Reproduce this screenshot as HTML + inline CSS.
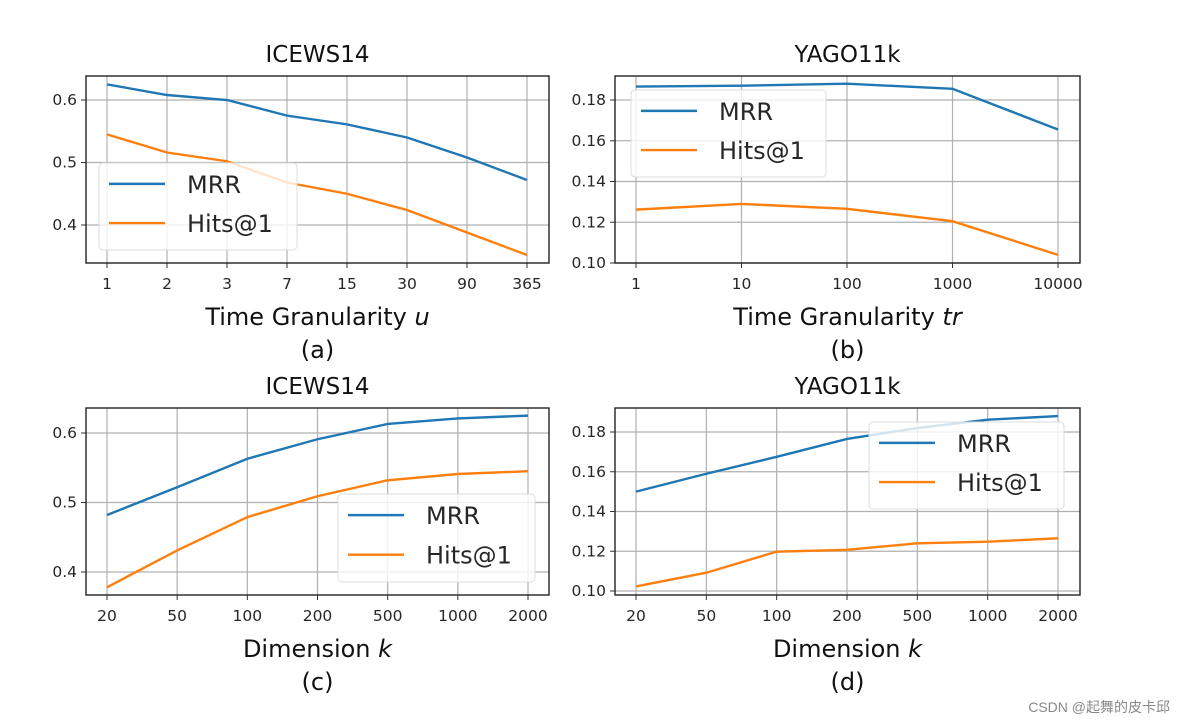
<!DOCTYPE html>
<html><head><meta charset="utf-8"><style>
body{margin:0;background:#fff;}
svg{display:block;font-family:"DejaVu Sans","Liberation Sans","Noto Sans CJK SC",sans-serif;}
</style></head><body>
<svg id="c" width="1184" height="722"></svg>
<script>
const xA=["1","2","3","7","15","30","90","365"];
const mrrA=[0.625,0.608,0.600,0.575,0.561,0.540,0.508,0.472];
const hitA=[0.545,0.516,0.502,0.468,0.450,0.424,0.388,0.352];
const xB=["1","10","100","1000","10000"];
const mrrB=[0.1866,0.1870,0.1880,0.1855,0.1655];
const hitB=[0.1262,0.1290,0.1266,0.1205,0.1040];
const xC=["20","50","100","200","500","1000","2000"];
const mrrC=[0.482,0.522,0.563,0.591,0.613,0.621,0.625];
const hitC=[0.378,0.431,0.479,0.509,0.532,0.541,0.545];
const mrrD=[0.150,0.159,0.1675,0.1765,0.182,0.1862,0.188];
const hitD=[0.1023,0.1092,0.1198,0.1207,0.1240,0.1248,0.1265];
const yTicksIce=[0.4,0.5,0.6];
const yTicksYago=[0.10,0.12,0.14,0.16,0.18];

const NS="http://www.w3.org/2000/svg";
const svg=document.getElementById('c');
function el(t,a,p){const e=document.createElementNS(NS,t);for(const k in a)e.setAttribute(k,a[k]);(p||svg).appendChild(e);return e;}
function txt(s,a,p){const e=el('text',a,p);e.textContent=s;return e;}

function panel(cfg){
  const g=el('g',{});
  
  
  const {L,R,T,B,x0,x1,yv0,yp0,yv1,yp1}=cfg;
  const n=cfg.cats.length;
  const xs=i=>x0+(x1-x0)*i/(n-1);
  const ys=v=>yp0+(v-yv0)*(yp1-yp0)/(yv1-yv0);
  cfg.cats.forEach((c,i)=>{
    const l=el('line',{x1:xs(i),x2:xs(i),y1:T,y2:B,stroke:'#b0b0b0','stroke-width':1.2},g);
    
    
    el('line',{x1:xs(i),x2:xs(i),y1:B,y2:B+5,stroke:'#333','stroke-width':1},g);
    const t=txt(c,{x:xs(i),y:B+26,'text-anchor':'middle','font-size':15.5,fill:'#262626'},g);
    
    
  });
  cfg.yt.forEach(v=>{
    const y=ys(v);
    el('line',{x1:L,x2:R,y1:y,y2:y,stroke:'#b0b0b0','stroke-width':1.2},g);
    el('line',{x1:L-5,x2:L,y1:y,y2:y,stroke:'#333','stroke-width':1},g);
    const t=txt(cfg.fmt(v),{x:L-9,y:y+5,'text-anchor':'end','font-size':15.5,fill:'#262626'},g);
    
    
  });
  [[cfg.mrr,'#1f77b4','mrr-line'],[cfg.hit,'#ff7f0e','hits1-line']].forEach(([d,col,nm])=>{
    const p=el('polyline',{points:d.map((v,i)=>xs(i)+','+ys(v)).join(' '),fill:'none',stroke:col,'stroke-width':2.4},g);
    
    
  });
  el('rect',{x:L,y:T,width:R-L,height:B-T,fill:'none',stroke:'#222','stroke-width':1.4},g);
  const lg=el('g',{},g);
  
  
  const [lx,ly,lw,lh]=cfg.leg;
  el('rect',{x:lx,y:ly,width:lw,height:lh,rx:4,fill:'rgba(255,255,255,0.8)',stroke:'#dcdcdc'},lg);
  [['MRR','#1f77b4',ly+lh*0.24],['Hits@1','#ff7f0e',ly+lh*0.69]].forEach(([s,col,y])=>{
    el('line',{x1:lx+10,x2:lx+66,y1:y,y2:y,stroke:col,'stroke-width':2.4},lg);
    const t=txt(s,{x:lx+88,y:y+9,'font-size':24,fill:'#262626'},lg);
    
    
  });
  const cx=(L+R)/2;
  const ti=txt(cfg.title,{x:cx,y:T-14,'text-anchor':'middle','font-size':23,fill:'#111'},g);
  
  
  const xl=el('text',{x:cx,y:B+62,'text-anchor':'middle','font-size':24,fill:'#111'},g);
  
  
  xl.appendChild(document.createTextNode(cfg.xlabel+' '));
  const it=el('tspan',{'font-style':'italic'},xl);it.textContent=cfg.xvar;
  const sl=txt(cfg.sub,{x:cx,y:B+95,'text-anchor':'middle','font-size':24,fill:'#111'},g);
  
  
}
const f1=v=>v.toFixed(1), f2=v=>v.toFixed(2);
panel({name:'panel-a',L:86,R:549,T:76,B:263,x0:107,x1:527,yv0:0.4,yp0:225,yv1:0.6,yp1:100,cats:xA,mrr:mrrA,hit:hitA,yt:yTicksIce,fmt:f1,leg:[99,163,198,87],title:'ICEWS14',xlabel:'Time Granularity',xvar:'u',sub:'(a)'});
panel({name:'panel-b',L:615,R:1080,T:76,B:263,x0:636,x1:1058,yv0:0.10,yp0:263,yv1:0.18,yp1:100,cats:xB,mrr:mrrB,hit:hitB,yt:yTicksYago,fmt:f2,leg:[631,90,195,87],title:'YAGO11k',xlabel:'Time Granularity',xvar:'tr',sub:'(b)'});
panel({name:'panel-c',L:86,R:549,T:408,B:595,x0:107,x1:528,yv0:0.4,yp0:572,yv1:0.6,yp1:433,cats:xC,mrr:mrrC,hit:hitC,yt:yTicksIce,fmt:f1,leg:[338,494,197,88],title:'ICEWS14',xlabel:'Dimension',xvar:'k',sub:'(c)'});
panel({name:'panel-d',L:615,R:1080,T:408,B:595,x0:636,x1:1058,yv0:0.10,yp0:591,yv1:0.18,yp1:432,cats:xC,mrr:mrrD,hit:hitD,yt:yTicksYago,fmt:f2,leg:[869,422,195,87],title:'YAGO11k',xlabel:'Dimension',xvar:'k',sub:'(d)'});
const w=txt('CSDN @起舞的皮卡邱',{x:1170,y:712,'text-anchor':'end','font-size':14,fill:'#888','font-family':'"Liberation Sans","Noto Sans CJK SC",sans-serif'});


</script>
</body></html>
